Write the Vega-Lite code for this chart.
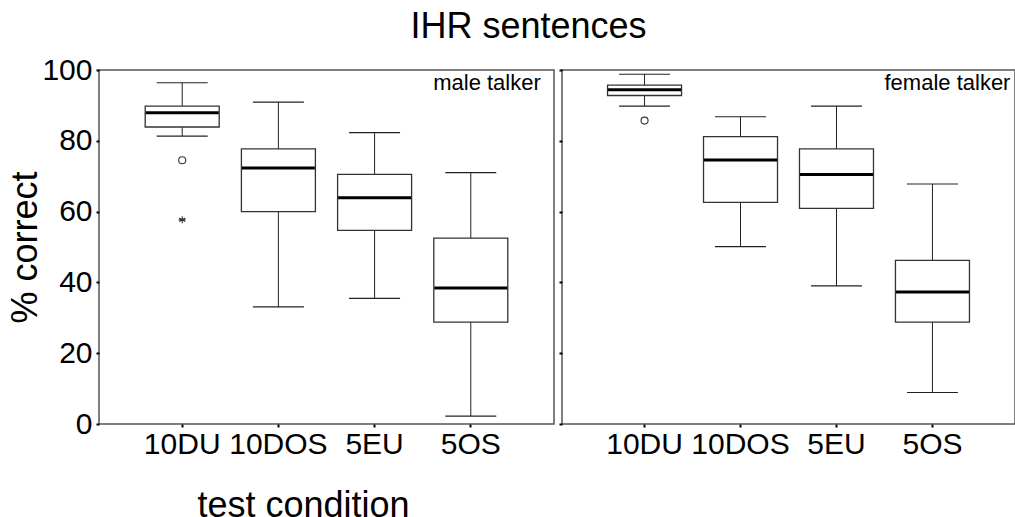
{
  "$schema": "https://vega.github.io/schema/vega-lite/v6.json",
  "datasets": {
    "boxes": [
      {"talker": "male", "cond": "10DU", "lo": 81.3, "q1": 83.9, "med": 87.9, "q3": 89.8, "hi": 96.4},
      {"talker": "male", "cond": "10DOS", "lo": 33.1, "q1": 60.0, "med": 72.3, "q3": 77.7, "hi": 90.9},
      {"talker": "male", "cond": "5EU", "lo": 35.5, "q1": 54.7, "med": 63.9, "q3": 70.5, "hi": 82.3},
      {"talker": "male", "cond": "5OS", "lo": 2.2, "q1": 28.8, "med": 38.4, "q3": 52.5, "hi": 71.0},
      {"talker": "female", "cond": "10DU", "lo": 89.8, "q1": 92.8, "med": 94.4, "q3": 95.7, "hi": 98.8},
      {"talker": "female", "cond": "10DOS", "lo": 50.1, "q1": 62.6, "med": 74.6, "q3": 81.2, "hi": 86.8},
      {"talker": "female", "cond": "5EU", "lo": 39.0, "q1": 60.9, "med": 70.5, "q3": 77.7, "hi": 89.8},
      {"talker": "female", "cond": "5OS", "lo": 8.9, "q1": 28.8, "med": 37.3, "q3": 46.2, "hi": 67.8}
    ],
    "outliers": [
      {"talker": "male", "cond": "10DU", "value": 74.5, "kind": "circle"},
      {"talker": "male", "cond": "10DU", "value": 57.7, "kind": "star"},
      {"talker": "female", "cond": "10DU", "value": 85.7, "kind": "circle"}
    ],
    "labels": [
      {"talker": "male", "label": "male talker"},
      {"talker": "female", "label": "female talker"}
    ]
  },
  "title": {
    "text": "IHR sentences",
    "fontSize": 36,
    "font": "Liberation Sans",
    "fontWeight": "normal",
    "color": "black",
    "offset": 8,
    "dx": 17,
    "anchor": "middle"
  },
  "padding": {"left": 7, "top": 9, "right": 0, "bottom": 0},
  "spacing": 2,
  "hconcat": [
    {
      "width": 455,
      "height": 354,
      "encoding": {
        "x": {
          "field": "cond",
          "type": "nominal",
          "sort": ["10DU", "10DOS", "5EU", "5OS"],
          "scale": {"type": "band", "domain": ["10DU", "10DOS", "5EU", "5OS"], "paddingInner": 0, "paddingOuter": 0.365},
          "axis": {
            "labelAngle": 0,
            "labelPadding": 2,
            "title": "test condition",
            "titlePadding": 29,
            "titleX": 204,
            "titleAlign": "center"
          }
        }
      },
      "layer": [
        {
          "data": {"name": "boxes"},
          "transform": [{"filter": "datum.talker === 'male'"}],
          "mark": {"type": "rule", "color": "#222", "strokeWidth": 1},
          "encoding": {
            "y": {
              "field": "lo",
              "type": "quantitative",
              "scale": {"domain": [0, 100], "nice": false, "zero": false},
              "axis": {
                "values": [0, 20, 40, 60, 80, 100],
                "labelPadding": 4,
                "title": "% correct",
                "titlePadding": -3
              }
            },
            "y2": {"field": "hi"}
          }
        },
        {
          "data": {"name": "boxes"},
          "transform": [{"filter": "datum.talker === 'male'"}],
          "mark": {"type": "tick", "color": "#222", "thickness": 1.2, "size": 51, "opacity": 1},
          "encoding": {"y": {"field": "lo", "type": "quantitative"}}
        },
        {
          "data": {"name": "boxes"},
          "transform": [{"filter": "datum.talker === 'male'"}],
          "mark": {"type": "tick", "color": "#222", "thickness": 1.2, "size": 51, "opacity": 1},
          "encoding": {"y": {"field": "hi", "type": "quantitative"}}
        },
        {
          "data": {"name": "boxes"},
          "transform": [{"filter": "datum.talker === 'male'"}],
          "mark": {"type": "bar", "width": 74, "fill": "white", "stroke": "#333", "strokeWidth": 1.3, "opacity": 1},
          "encoding": {"y": {"field": "q1", "type": "quantitative"}, "y2": {"field": "q3"}}
        },
        {
          "data": {"name": "boxes"},
          "transform": [{"filter": "datum.talker === 'male'"}],
          "mark": {"type": "tick", "color": "black", "thickness": 3, "size": 73, "opacity": 1},
          "encoding": {"y": {"field": "med", "type": "quantitative"}}
        },
        {
          "data": {"name": "outliers"},
          "transform": [{"filter": "datum.talker === 'male'"}],
          "mark": {"type": "point", "filled": false, "stroke": "#333", "strokeWidth": 1.1, "size": 50, "opacity": 1},
          "encoding": {
            "y": {"field": "value", "type": "quantitative"},
            "shape": {
              "field": "kind",
              "type": "nominal",
              "scale": {"domain": ["circle", "star"], "range": ["circle", "M0,-1L0,1M-0.87,-0.5L0.87,0.5M-0.87,0.5L0.87,-0.5M-1,0L1,0"]},
              "legend": null
            }
          }
        },
        {
          "data": {"name": "labels"},
          "transform": [{"filter": "datum.talker === 'male'"}],
          "mark": {"type": "text", "align": "right", "baseline": "alphabetic", "dx": 70, "dy": 20, "fontSize": 22, "font": "Liberation Sans", "color": "black"},
          "encoding": {
            "x": {"datum": "5OS"},
            "y": {"datum": 100},
            "text": {"field": "label"}
          }
        }
      ]
    },
    {
      "width": 453,
      "height": 354,
      "encoding": {
        "x": {
          "field": "cond",
          "type": "nominal",
          "sort": ["10DU", "10DOS", "5EU", "5OS"],
          "scale": {"type": "band", "domain": ["10DU", "10DOS", "5EU", "5OS"], "paddingInner": 0, "paddingOuter": 0.36},
          "axis": {"labelAngle": 0, "labelPadding": 2, "title": null}
        }
      },
      "layer": [
        {
          "data": {"name": "boxes"},
          "transform": [{"filter": "datum.talker === 'female'"}],
          "mark": {"type": "rule", "color": "#222", "strokeWidth": 1},
          "encoding": {
            "y": {
              "field": "lo",
              "type": "quantitative",
              "scale": {"domain": [0, 100], "nice": false, "zero": false},
              "axis": {"values": [0, 20, 40, 60, 80, 100], "labels": false, "title": null}
            },
            "y2": {"field": "hi"}
          }
        },
        {
          "data": {"name": "boxes"},
          "transform": [{"filter": "datum.talker === 'female'"}],
          "mark": {"type": "tick", "color": "#222", "thickness": 1.2, "size": 51, "opacity": 1},
          "encoding": {"y": {"field": "lo", "type": "quantitative"}}
        },
        {
          "data": {"name": "boxes"},
          "transform": [{"filter": "datum.talker === 'female'"}],
          "mark": {"type": "tick", "color": "#222", "thickness": 1.2, "size": 51, "opacity": 1},
          "encoding": {"y": {"field": "hi", "type": "quantitative"}}
        },
        {
          "data": {"name": "boxes"},
          "transform": [{"filter": "datum.talker === 'female'"}],
          "mark": {"type": "bar", "width": 74, "fill": "white", "stroke": "#333", "strokeWidth": 1.3, "opacity": 1},
          "encoding": {"y": {"field": "q1", "type": "quantitative"}, "y2": {"field": "q3"}}
        },
        {
          "data": {"name": "boxes"},
          "transform": [{"filter": "datum.talker === 'female'"}],
          "mark": {"type": "tick", "color": "black", "thickness": 3, "size": 73, "opacity": 1},
          "encoding": {"y": {"field": "med", "type": "quantitative"}}
        },
        {
          "data": {"name": "outliers"},
          "transform": [{"filter": "datum.talker === 'female'"}],
          "mark": {"type": "point", "filled": false, "stroke": "#333", "strokeWidth": 1.1, "size": 50, "opacity": 1},
          "encoding": {
            "y": {"field": "value", "type": "quantitative"},
            "shape": {
              "field": "kind",
              "type": "nominal",
              "scale": {"domain": ["circle", "star"], "range": ["circle", "M0,-1L0,1M-0.87,-0.5L0.87,0.5M-0.87,0.5L0.87,-0.5M-1,0L1,0"]},
              "legend": null
            }
          }
        },
        {
          "data": {"name": "labels"},
          "transform": [{"filter": "datum.talker === 'female'"}],
          "mark": {"type": "text", "align": "right", "baseline": "alphabetic", "dx": 78, "dy": 20, "fontSize": 22, "font": "Liberation Sans", "color": "black"},
          "encoding": {
            "x": {"datum": "5OS"},
            "y": {"datum": 100},
            "text": {"field": "label"}
          }
        }
      ]
    }
  ],
  "config": {
    "font": "Liberation Sans",
    "background": "white",
    "view": {"stroke": "#555", "strokeWidth": 1.5},
    "axis": {
      "grid": false,
      "domain": false,
      "ticks": true,
      "tickColor": "black",
      "tickSize": 3,
      "tickWidth": 2,
      "labelFont": "Liberation Sans",
      "labelFontSize": 30,
      "labelColor": "black",
      "titleFont": "Liberation Sans",
      "titleFontSize": 36,
      "titleFontWeight": "normal",
      "titleColor": "black"
    }
  }
}
